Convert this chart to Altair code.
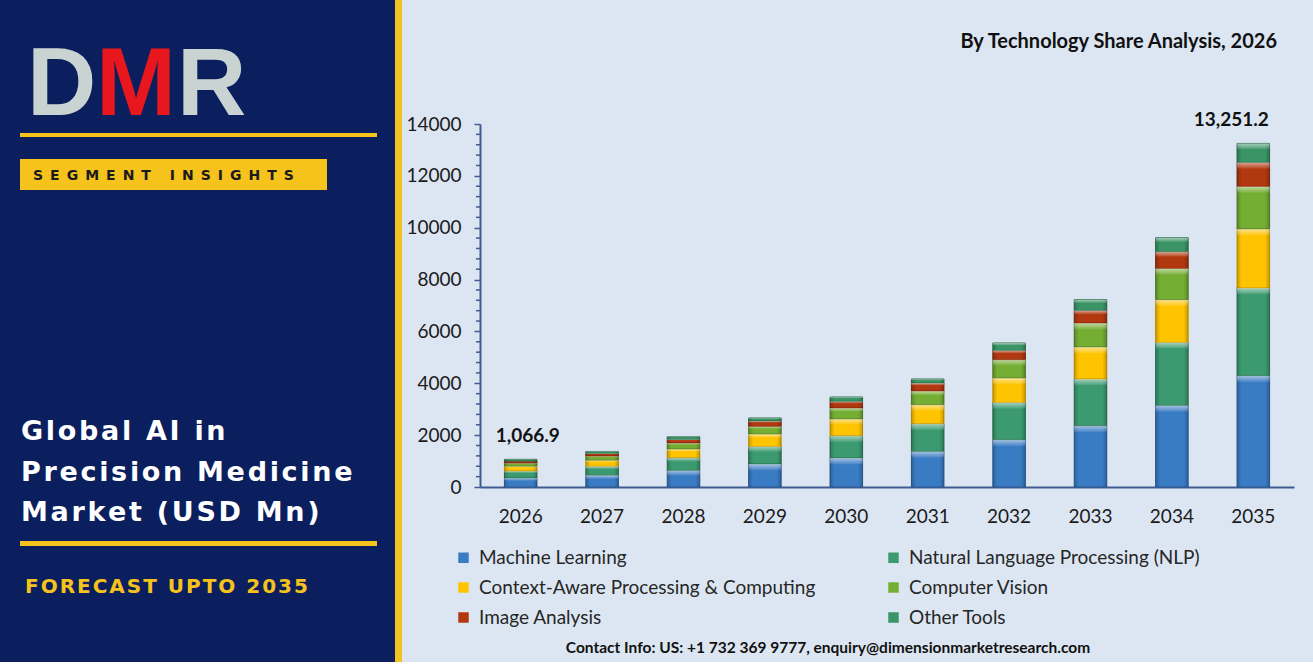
import altair as alt
import pandas as pd

# ---- data -----------------------------------------------------------------
years = [2026, 2027, 2028, 2029, 2030, 2031, 2032, 2033, 2034, 2035]
technologies = [
    "Machine Learning",
    "Natural Language Processing (NLP)",
    "Context-Aware Processing & Computing",
    "Computer Vision",
    "Image Analysis",
    "Other Tools",
]
machine_learning = [350, 450, 640, 887, 1118, 1373, 1824, 2364, 3147, 4292]
nlp = [270, 348, 492, 679, 860, 1068, 1438, 1801, 2430, 3383]
context_aware = [180, 235, 333, 478, 644, 733, 941, 1234, 1647, 2275]
computer_vision = [128, 165, 232, 293, 424, 528, 706, 926, 1207, 1643]
image_analysis = [76, 95, 135, 208, 255, 309, 359, 486, 644, 925]
other_tools = [62.9, 77, 104, 116, 170, 154, 285, 413, 540, 733.2]

y_ticks = [0, 2000, 4000, 6000, 8000, 10000, 12000, 14000]
minor_ticks = [v for v in range(400, 14000, 400) if v % 2000 != 0]
labelled_years = [2026, 2035]

colors = ["#3a7cc4", "#3b9a70", "#ffc400", "#74ae33", "#b2380f", "#3a9466"]
edge_colors = ["#2a5c98", "#2a7050", "#c99700", "#567f25", "#82260a", "#2a6e4a"]

series = [machine_learning, nlp, context_aware, computer_vision, image_analysis, other_tools]
rows = []
for k, (name, vals) in enumerate(zip(technologies, series)):
    for yr, v in zip(years, vals):
        rows.append({"year": yr, "tech": name, "value": v, "order": k})
df = pd.DataFrame(rows)

# ---- layout constants -----------------------------------------------------
W, H = 814, 363
PAD = {"left": 480, "top": 124, "right": 19, "bottom": 181}
NAVY = "#0b1f5e"
GOLD = "#f6c21c"
AXIS = "#3f5b8f"
BASE_FONT = "Lato"
PANEL_FONT = "DejaVu Sans"


def spaced(s, sep="\u200a"):
    return sep.join(s)


one = pd.DataFrame({"a": [0]})


def rect(x, x2, y, y2, color):
    return alt.Chart(one).mark_rect(color=color).encode(
        x=alt.value(x), x2=alt.value(x2), y=alt.value(y), y2=alt.value(y2)
    )


def label(text, x, y, **kw):
    return alt.Chart(pd.DataFrame({"t": [text]})).mark_text(**kw).encode(
        text="t:N", x=alt.value(x), y=alt.value(y)
    )


x_enc = alt.X(
    "year:O",
    scale=alt.Scale(paddingInner=0.6, paddingOuter=0.3),
    axis=alt.Axis(
        title=None, labelAngle=0, ticks=False, domainColor=AXIS, domainWidth=2,
        labelFont=BASE_FONT, labelFontSize=19, labelColor="#1a1a1a", labelPadding=20,
    ),
)
y_scale = alt.Scale(domain=[0, 14000], nice=False)
y_axis = alt.Axis(
    title=None, values=y_ticks, format="d", grid=False, domainColor=AXIS, domainWidth=2,
    tickColor=AXIS, tickWidth=1.5, tickSize=6, labelFont=BASE_FONT,
    labelFontSize=19, labelColor="#1a1a1a", labelPadding=13,
)


def y_enc(field):
    return alt.Y(field, scale=y_scale, axis=y_axis)


stacked = alt.Chart(df).transform_stack(
    stack="value", groupby=["year"], as_=["y0", "y1"], sort=[alt.SortField("order", "ascending")]
)

bars = stacked.mark_bar(strokeWidth=1).encode(
    x=x_enc,
    y=y_enc("y1:Q"),
    y2="y0:Q",
    color=alt.Color(
        "tech:N",
        scale=alt.Scale(domain=technologies, range=colors),
        legend=alt.Legend(
            title=None, orient="none", legendX=-26, legendY=424, columns=2,
            direction="horizontal", columnPadding=68, rowPadding=10,
            symbolType="square", symbolSize=110, symbolStrokeWidth=0,
            labelFont=BASE_FONT, labelFontSize=19, labelColor="#262626",
            labelOffset=6, padding=0, labelLimit=400,
        ),
    ),
    stroke=alt.Stroke("tech:N", scale=alt.Scale(domain=technologies, range=edge_colors), legend=None),
)

# bevel: darker sides and a light band along the top of every segment
side_shade = stacked.mark_bar(
    fill=alt.Gradient(
        gradient="linear", x1=0, x2=1, y1=0, y2=0,
        stops=[
            alt.GradientStop(offset=0, color="rgba(0,0,0,0.22)"),
            alt.GradientStop(offset=0.14, color="rgba(0,0,0,0)"),
            alt.GradientStop(offset=0.86, color="rgba(0,0,0,0)"),
            alt.GradientStop(offset=1, color="rgba(0,0,0,0.22)"),
        ],
    )
).encode(x=x_enc, y=y_enc("y1:Q"), y2="y0:Q")

top_light = stacked.transform_calculate(
    hl="datum.y1 - min(0.3 * (datum.y1 - datum.y0), 240)"
).mark_bar(
    fill=alt.Gradient(
        gradient="linear", x1=0, x2=0, y1=0, y2=1,
        stops=[
            alt.GradientStop(offset=0, color="rgba(255,255,255,0.55)"),
            alt.GradientStop(offset=1, color="rgba(255,255,255,0.08)"),
        ],
    )
).encode(x=x_enc, y=y_enc("y1:Q"), y2="hl:Q")

minor = alt.Chart(pd.DataFrame({"v": minor_ticks})).mark_rule(color=AXIS, strokeWidth=1.5).encode(
    y=y_enc("v:Q"), x=alt.value(-4), x2=alt.value(0)
)


def total_label(yr, dx):
    return alt.Chart(df).transform_filter(alt.datum.year == yr).transform_aggregate(
        total="sum(value)", groupby=["year"]
    ).mark_text(
        font=BASE_FONT, fontSize=19, fontWeight="bold", color="#111111",
        baseline="bottom", dy=-13, dx=dx,
    ).encode(
        x=x_enc, y=y_enc("total:Q"), text=alt.Text("total:Q", format=",.1f")
    )


labels = [total_label(labelled_years[0], 7), total_label(labelled_years[1], -22)]

# ---- left panel & decorations ----------------------------------------------
logo_style = dict(font="Liberation Sans", fontSize=96, fontWeight="bold",
                  align="left", baseline="alphabetic")
panel = [
    rect(-480, -85, -124, 538, NAVY),
    rect(-85, -78, -124, 538, "#f2c21e"),
    rect(-480, 833, 538, 544, "#ffffff"),
    rect(-460, -103, 9, 13, GOLD),
    rect(-460, -153, 35, 66, GOLD),
    rect(-460, -103, 417, 422, GOLD),
    label("D", -453, -9, color="#c9d3d2", **logo_style),
    label("M", -384, -9, color="#e8161d", **logo_style),
    label("R", -303, -9, color="#c9d3d2", **logo_style),
    label(spaced("SEGMENT INSIGHTS", "\u2002"), -447, 56, font=PANEL_FONT, fontSize=14,
          fontWeight="bold", color="#1a1a1a", align="left", baseline="alphabetic"),
    label(spaced("Global AI in"), -459, 316, font=PANEL_FONT, fontSize=27,
          fontWeight="bold", color="#ffffff", align="left", baseline="alphabetic"),
    label(spaced("Precision Medicine"), -459, 357, font=PANEL_FONT, fontSize=27,
          fontWeight="bold", color="#ffffff", align="left", baseline="alphabetic"),
    label(spaced("Market (USD Mn)"), -459, 397, font=PANEL_FONT, fontSize=27,
          fontWeight="bold", color="#ffffff", align="left", baseline="alphabetic"),
    label(spaced("FORECAST UPTO 2035"), -455, 469, font=PANEL_FONT, fontSize=20,
          fontWeight="bold", color=GOLD, align="left", baseline="alphabetic"),
    label("By Technology Share Analysis, 2026", 797, -76, font=BASE_FONT, fontSize=20,
          fontWeight="bold", color="#111111", align="right", baseline="alphabetic"),
    label("Contact Info: US: +1 732 369 9777, enquiry@dimensionmarketresearch.com", 348, 524,
          font=BASE_FONT, fontSize=15.5, fontWeight="bold", color="#111111",
          align="center", baseline="middle"),
]

chart = alt.layer(
    *panel, bars, side_shade, top_light, minor, *labels
).properties(
    width=W, height=H, padding=PAD,
    autosize=alt.AutoSizeParams(type="none"),
).configure(background="#dce6f2").configure_view(strokeWidth=0)

chart.save("out.html", embed_options={"renderer": "svg", "actions": False})
